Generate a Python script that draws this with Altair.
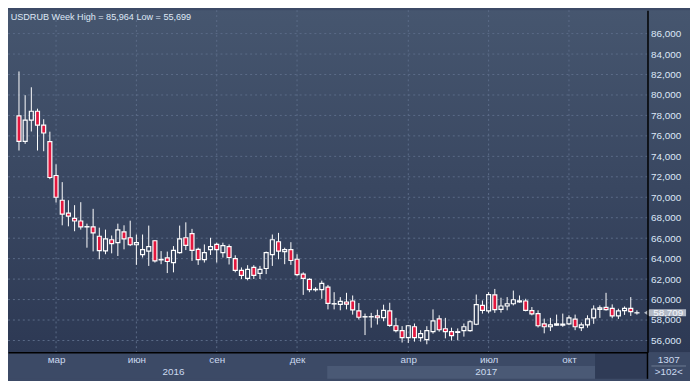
import json
import altair as alt
import pandas as pd

# ---------------- data ----------------
opens = [77.95, 75.47, 77.54, 78.41, 77.05, 75.44, 72.13, 69.71, 68.45, 67.93,
         67.68, 67.10, 67.10, 66.19, 64.76, 65.85, 65.56, 66.62, 66.04, 65.36,
         64.40, 64.74, 65.75, 63.88, 64.07, 63.62, 64.59, 66.04, 66.45, 64.91,
         63.91, 64.88, 65.39, 64.59, 65.17, 64.01, 62.85, 62.08, 63.14, 62.56,
         63.04, 64.40, 65.65, 64.69, 64.88, 63.94, 62.49, 61.98, 60.96, 60.98,
         61.21, 59.57, 59.53, 59.76, 59.86, 58.89, 58.30, 58.31, 58.41, 58.24,
         58.89, 57.44, 56.96, 56.28, 57.34, 56.28, 56.09, 56.86, 58.12, 57.15,
         56.86, 56.79, 56.96, 56.96, 57.59, 59.43, 58.89, 60.46, 59.04, 59.37,
         59.59, 59.76, 59.86, 58.92, 58.63, 57.63, 57.34, 57.50, 57.50, 57.63,
         58.08, 57.25, 57.53, 58.21, 59.04, 59.24, 59.14, 58.40, 58.92, 59.14,
         58.70]
highs = [82.30, 79.98, 80.75, 78.66, 77.63, 76.41, 73.22, 71.48, 69.71, 69.23,
         69.52, 67.42, 68.87, 67.03, 66.84, 66.26, 67.42, 67.26, 67.71, 66.36,
         66.36, 67.23, 65.80, 64.74, 64.69, 65.23, 67.23, 67.55, 66.91, 65.07,
         65.39, 66.04, 65.56, 65.56, 65.39, 64.33, 63.14, 63.36, 63.36, 63.29,
         64.69, 66.36, 66.52, 65.07, 65.61, 64.43, 62.66, 62.08, 61.21, 61.85,
         61.43, 60.72, 60.24, 60.66, 60.40, 59.66, 58.63, 58.70, 59.01, 59.50,
         59.69, 58.21, 57.40, 57.50, 57.66, 57.01, 57.40, 59.04, 58.46, 58.21,
         57.25, 57.18, 57.66, 57.98, 60.49, 59.91, 60.72, 61.04, 60.18, 60.24,
         60.88, 60.40, 60.08, 59.27, 58.95, 58.14, 58.21, 58.53, 58.63, 58.46,
         58.53, 57.76, 58.46, 59.43, 59.43, 60.66, 59.53, 59.11, 59.33, 60.24,
         58.95]
lows = [74.57, 75.22, 76.43, 74.57, 74.50, 71.77, 69.48, 67.26, 67.16, 66.68,
        66.84, 65.07, 64.71, 63.94, 64.43, 64.52, 64.26, 64.91, 65.23, 63.39,
        64.11, 63.29, 63.62, 63.46, 62.59, 62.66, 64.49, 64.84, 63.78, 63.39,
        63.62, 64.36, 63.62, 64.11, 63.43, 62.66, 62.01, 61.88, 62.01, 62.01,
        62.49, 63.29, 63.94, 63.46, 63.39, 62.27, 60.46, 60.72, 60.78, 60.08,
        59.04, 59.04, 58.95, 59.04, 58.53, 58.05, 56.53, 57.25, 57.56, 57.88,
        57.34, 56.79, 55.80, 55.76, 55.89, 55.89, 55.63, 56.67, 56.86, 56.21,
        55.99, 56.02, 56.38, 56.86, 57.50, 58.63, 58.66, 58.70, 58.72, 58.95,
        59.43, 59.69, 58.85, 58.46, 57.27, 56.70, 56.92, 57.44, 57.34, 57.50,
        57.01, 56.92, 57.25, 57.63, 58.21, 58.92, 58.17, 58.11, 58.50, 58.40,
        58.53]
closes = [75.47, 77.54, 78.41, 77.05, 76.28, 71.93, 70.00, 68.36, 68.16, 67.68,
          67.10, 67.13, 66.52, 64.78, 65.94, 65.46, 66.81, 65.94, 65.36, 65.56,
          64.88, 65.17, 63.78, 63.92, 63.72, 64.81, 65.94, 65.29, 64.81, 63.91,
          64.59, 65.17, 64.88, 65.27, 64.11, 62.85, 62.37, 62.95, 62.37, 62.95,
          64.59, 65.85, 64.74, 64.88, 63.82, 62.43, 62.08, 60.98, 61.00, 61.59,
          59.62, 59.60, 59.82, 59.56, 58.99, 58.27, 58.33, 58.33, 58.22, 58.95,
          57.47, 56.96, 56.28, 57.44, 56.28, 56.67, 56.96, 57.92, 57.05, 56.86,
          56.47, 56.86, 57.34, 57.83, 59.50, 58.95, 60.49, 59.01, 59.37, 59.59,
          59.98, 59.88, 58.95, 58.60, 57.44, 57.34, 57.53, 57.63, 57.60, 58.21,
          57.34, 57.53, 58.12, 59.08, 59.18, 59.01, 58.40, 58.89, 59.14, 58.82,
          58.709]

month_labels = ["мар", "июн", "сен", "дек", "апр", "июл", "окт"]
month_pos = [6, 19, 32, 45, 63, 76, 89]
year_labels = ["2016", "2017"]
year_pos = [25.0, 75.6]
y_ticks = list(range(56, 87, 2))
title_text = "USDRUB Week High = 85,964 Low = 55,699"
last_price = [58.709]
last_price_text = ["58,709"]
bar_count_text = "1307"
visible_text = ">102<"

# ---------------- styling ----------------
W, H = 647, 346
PAD_R, PAD_B = 43, 27
X_DOM = [-0.976, 100.91]
Y_DOM = [54.86, 88.29]
FONT = "Liberation Sans"
RED = "#e3173e"
GRID = "#5b6b88"
LABEL = "#dce7f7"
LABEL2 = "#cbd9ef"

df = pd.DataFrame({"k": list(range(len(opens))), "open": opens, "high": highs,
                   "low": lows, "close": closes})
df["top"] = df[["open", "close"]].max(axis=1)
df["bot"] = df[["open", "close"]].min(axis=1)

xs = alt.Scale(domain=X_DOM, nice=False, zero=False)
ys = alt.Scale(domain=Y_DOM, nice=False, zero=False)

label_expr = "{}[indexof({}, datum.value)]".format(
    json.dumps(month_labels, ensure_ascii=False), json.dumps(month_pos))
xaxis = alt.Axis(values=month_pos, labelExpr=label_expr, grid=False, ticks=False,
                 domain=True, domainColor="#000000", domainWidth=1.5,
                 labelColor=LABEL2, labelFont=FONT, labelFontSize=10,
                 labelPadding=10, labelBaseline="alphabetic", labelFlush=False,
                 labelOverlap=False, labelBound=False, zindex=1)
yaxis = alt.Axis(orient="right", values=y_ticks,
                 labelExpr="replace(format(datum.value, '.3f'), '.', ',')",
                 grid=False, ticks=False, domain=True, domainColor="#000000",
                 domainWidth=1.5, labelColor=LABEL, labelFont=FONT,
                 labelFontSize=10, labelAlign="left", labelBaseline="middle",
                 labelPadding=3, labelFlush=False, labelOverlap=False, zindex=1)


def X(field="k"):
    return alt.X(f"{field}:Q", scale=xs, axis=xaxis, title=None)


def Y(field):
    return alt.Y(f"{field}:Q", scale=ys, axis=yaxis, title=None)


one = pd.DataFrame({"a": [0]})
grad = alt.Gradient(gradient="linear",
                    stops=[alt.GradientStop(color="#46566f", offset=0),
                           alt.GradientStop(color="#2d3954", offset=1)],
                    x1=0, x2=0, y1=0, y2=1)

bg = alt.Chart(one).mark_rect(fill=grad).encode(
    x=alt.value(0), x2=alt.value(W + PAD_R), y=alt.value(0), y2=alt.value(H))
band = alt.Chart(one).mark_rect(fill="#3c4a66").encode(
    x=alt.value(0), x2=alt.value(W + PAD_R), y=alt.value(H), y2=alt.value(H + PAD_B))
band_year = alt.Chart(one).mark_rect(fill="#4a5975").encode(
    x=alt.value(323), x2=alt.value(594), y=alt.value(360), y2=alt.value(H + PAD_B))
band_dark = alt.Chart(one).mark_rect(fill="#2f3b56").encode(
    x=alt.value(594), x2=alt.value(W), y=alt.value(H), y2=alt.value(H + PAD_B))
sep_line = alt.Chart(one).mark_rule(color="#6d7b93", strokeWidth=1).encode(
    x=alt.value(W + 4), x2=alt.value(W + PAD_R - 4), y=alt.value(360))
right_edge = alt.Chart(one).mark_rule(color="#000000", strokeWidth=1.5).encode(
    x=alt.value(W), y=alt.value(H), y2=alt.value(H + PAD_B))

grid_h = alt.Chart(pd.DataFrame({"g": y_ticks})).mark_rule(
    color=GRID, strokeDash=[2, 3], strokeWidth=1).encode(y=Y("g"))
grid_v = alt.Chart(pd.DataFrame({"k": month_pos})).mark_rule(
    color=GRID, strokeDash=[2, 3], strokeWidth=1).encode(x=X())

base = alt.Chart(df)
wick_up = base.mark_rule(color="#ffffff", strokeWidth=1).encode(
    x=X(), y=Y("high"), y2="top")
wick_dn = base.mark_rule(color="#ffffff", strokeWidth=1).encode(
    x=X(), y=Y("bot"), y2="low")
body = base.mark_bar(width=4, stroke="#ffffff", strokeWidth=1.2, fill=RED).encode(
    x=X(), y=Y("open"), y2="close",
    fillOpacity=alt.condition("datum.close < datum.open", alt.value(1), alt.value(0)))

years = alt.Chart(pd.DataFrame({"k": year_pos, "t": year_labels})).mark_text(
    font=FONT, fontSize=10, color=LABEL2, baseline="alphabetic", align="center"
).encode(x=X(), y=alt.value(368.7), text="t:N")

title = alt.Chart(one).mark_text(
    text=title_text, font=FONT, fontSize=9.2, color="#dfe8f6", align="left",
    baseline="alphabetic").encode(x=alt.value(2.7), y=alt.value(10.3))

count_t = alt.Chart(one).mark_text(
    text=bar_count_text, font=FONT, fontSize=10, color=LABEL2,
    align="center", baseline="alphabetic").encode(x=alt.value(W + 21.5), y=alt.value(357))
vis_t = alt.Chart(one).mark_text(
    text=visible_text, font=FONT, fontSize=10, color=LABEL2,
    align="center", baseline="alphabetic").encode(x=alt.value(W + 21.5), y=alt.value(369.3))

lp = pd.DataFrame({"v": last_price, "t": last_price_text})
price_box = alt.Chart(lp).mark_point(
    shape="M-1.3,0 L-1,-0.19 L1,-0.19 L1,0.19 L-1,0.19 Z",
    size=1369, filled=True, fill="#b3bac6", opacity=1, strokeWidth=0
).encode(x=alt.value(W + 20.5), y=Y("v"))
price_txt = alt.Chart(lp).mark_text(
    font=FONT, fontSize=10, color="#f4f7fc", align="center", baseline="middle"
).encode(x=alt.value(W + 21), y=Y("v"), text="t:N")

chart = alt.layer(
    bg, band, band_year, band_dark, sep_line, grid_h, grid_v,
    wick_up, wick_dn, body, years, title, count_t, vis_t, right_edge,
    price_box, price_txt
).properties(
    width=W, height=H,
    autosize=alt.AutoSizeParams(type="none"),
    padding={"left": 0, "top": 0, "right": PAD_R, "bottom": PAD_B},
    background="#3c4a66",
).configure_view(strokeWidth=0)

chart.save("out.html", embed_options={"renderer": "svg", "actions": False})
